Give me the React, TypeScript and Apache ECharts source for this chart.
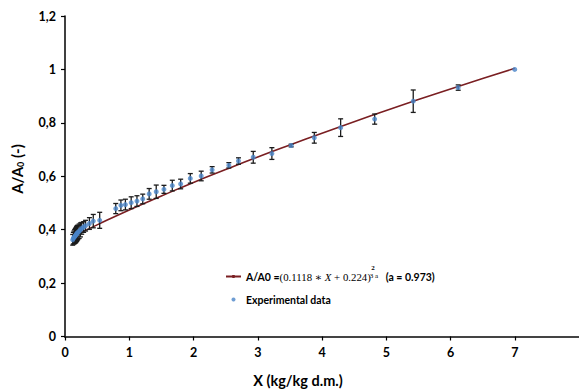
import React, { useEffect, useRef } from "react";
import * as echarts from "echarts";

// Fitted model curve
const fitX = [0.13, 0.5, 1, 1.5, 2, 2.5, 3, 3.5, 4, 4.5, 5, 5.5, 6, 6.5, 7];
const fitY = [0.375, 0.418, 0.474, 0.526, 0.577, 0.625, 0.672, 0.717, 0.761, 0.804, 0.846, 0.887, 0.927, 0.966, 1.004];

// Experimental data: X, A/A0, error bar half-length
const expX = [0.12, 0.13, 0.14, 0.15, 0.16, 0.17, 0.18, 0.19, 0.2, 0.22, 0.24, 0.26, 0.29, 0.32, 0.38, 0.44, 0.54,
  0.79, 0.87, 0.94, 1.03, 1.12, 1.21, 1.31, 1.42, 1.54, 1.67, 1.8, 1.95, 2.12, 2.29, 2.55, 2.7, 2.93, 3.22, 3.52,
  3.88, 4.29, 4.82, 5.42, 6.12, 7.0];
const expY = [0.362, 0.368, 0.371, 0.374, 0.377, 0.38, 0.384, 0.387, 0.39, 0.394, 0.399, 0.405, 0.41, 0.415, 0.423, 0.432, 0.435,
  0.479, 0.491, 0.494, 0.501, 0.507, 0.515, 0.534, 0.542, 0.551, 0.565, 0.571, 0.592, 0.601, 0.624, 0.641, 0.657, 0.671, 0.685, 0.715,
  0.744, 0.782, 0.814, 0.881, 0.932, 1.0];
const expErr = [0.02, 0.022, 0.024, 0.026, 0.027, 0.028, 0.028, 0.028, 0.027, 0.027, 0.026, 0.022, 0.02, 0.02, 0.022, 0.025, 0.03,
  0.019, 0.02, 0.02, 0.022, 0.02, 0.018, 0.02, 0.025, 0.015, 0.02, 0.018, 0.018, 0.018, 0.012, 0.01, 0.012, 0.022, 0.022, 0.005,
  0.02, 0.033, 0.019, 0.042, 0.01, 0];

const yTicks = [0, 0.2, 0.4, 0.6, 0.8, 1, 1.2];

const FIT_NAME = "A/A0";
const EXP_NAME = "Experimental data";

const FONT = "Lato, 'Liberation Sans', sans-serif";
const SERIF = "'Liberation Serif', 'DejaVu Serif', serif";

export default function App() {
  const ref = useRef<HTMLDivElement>(null);
  useEffect(() => {
    if (!ref.current) return;
    const chart = echarts.init(ref.current, null, { renderer: "svg" });
    const fitData = fitX.map((x, i) => [x, fitY[i]]);
    const expData = expX.map((x, i) => [x, expY[i]]);
    const errData = expX.map((x, i) => [x, expY[i], expErr[i]]);
    chart.setOption({
      animation: false,
      backgroundColor: "#fff",
      grid: { left: 65, top: 16, right: -3, bottom: 52.5, containLabel: false },
      xAxis: [
        {
          type: "value",
          min: 0,
          max: 8,
          interval: 1,
          axisLine: { show: true, onZero: false, lineStyle: { color: "#000", width: 1.5 } },
          axisTick: { show: true, length: 4, lineStyle: { color: "#000", width: 1.2 } },
          axisLabel: {
            margin: 9,
            showMaxLabel: false,
            color: "#000",
            fontFamily: FONT,
            fontWeight: "bold",
            fontSize: 12.5,
          },
          splitLine: { show: false },
        },
        {
          type: "value",
          position: "top",
          min: 0,
          max: 8,
          axisLine: { show: true, lineStyle: { color: "#444", width: 2 } },
          axisTick: { show: false },
          axisLabel: { show: false },
          splitLine: { show: false },
        },
      ],
      yAxis: {
        type: "value",
        min: 0,
        max: 1.2,
        interval: 0.2,
        axisLine: { show: true, onZero: false, lineStyle: { color: "#000", width: 1.5 } },
        axisTick: { show: true, length: 4, lineStyle: { color: "#000", width: 1.2 } },
        axisLabel: {
          margin: 9,
          color: "#000",
          fontFamily: FONT,
          fontWeight: "bold",
          fontSize: 12.5,
          formatter: (v: number) => {
            const t = yTicks.find((k) => Math.abs(k - v) < 1e-6);
            const val = t === undefined ? v : t;
            return String(Number(val.toFixed(1))).replace(".", ",");
          },
        },
        splitLine: { show: false },
      },
      legend: {
        orient: "vertical",
        left: 220,
        top: 266,
        itemWidth: 15,
        itemHeight: 4,
        itemGap: 12,
        selectedMode: false,
        data: [{ name: FIT_NAME }, { name: EXP_NAME, icon: "circle" }],
        formatter: (name: string) =>
          name === FIT_NAME
            ? "{b|A/A0 =}{m|(0.1118 ∗ }{mi|X}{m| + 0.224)}{sp| }{b|(a = 0.973)}"
            : "{b|Experimental data}",
        textStyle: {
          color: "#000",
          rich: {
            b: { fontFamily: FONT, fontWeight: "bold", fontSize: 10.5, color: "#000" },
            m: { fontFamily: SERIF, fontSize: 10.8, color: "#000" },
            mi: { fontFamily: SERIF, fontStyle: "italic", fontSize: 10.8, color: "#000" },
            sp: { width: 15, fontSize: 9 },
          },
        },
      },
      graphic: [
        {
          type: "text",
          x: 373,
          y: 267.5,
          style: { text: "2", font: `bold 7px ${SERIF}`, fill: "#000", align: "center", verticalAlign: "middle" },
        },
        {
          type: "text",
          x: 374,
          y: 275.5,
          style: { text: "3 a", font: `7px ${SERIF}`, fill: "#000", align: "center", verticalAlign: "middle" },
        },
        {
          type: "text",
          x: 17,
          y: 169,
          rotation: Math.PI / 2,
          style: {
            text: "{t|A/A}{s|0}{t| (-)}",
            align: "center",
            verticalAlign: "middle",
            rich: {
              t: { fontFamily: FONT, fontWeight: "bold", fontSize: 15, fill: "#000" },
              s: { fontFamily: FONT, fontWeight: "bold", fontSize: 9, fill: "#000", padding: [7, 0, 0, 0] },
            },
          },
        },
        {
          type: "text",
          x: 298,
          y: 380,
          style: {
            text: "X (kg/kg d.m.)",
            align: "center",
            verticalAlign: "middle",
            font: `bold 14.5px ${FONT}`,
            fill: "#000",
          },
        },
      ],
      series: [
        {
          name: FIT_NAME,
          type: "line",
          data: fitData,
          smooth: true,
          symbol: "none",
          showSymbol: false,
          lineStyle: { color: "#7a1f22", width: 1.6 },
          itemStyle: { color: "#7a1f22" },
          z: 2,
        },
        {
          name: "err",
          type: "custom",
          data: errData,
          encode: { x: 0, y: 1 },
          z: 3,
          renderItem: (_params: any, api: any) => {
            const x = api.value(0);
            const y = api.value(1);
            const e = api.value(2);
            if (!e) return { type: "group", children: [] };
            const top = api.coord([x, y + e]);
            const bot = api.coord([x, y - e]);
            const w = 2.5;
            const st = { stroke: "#1c1c1c", lineWidth: 1.3 };
            return {
              type: "group",
              children: [
                { type: "line", shape: { x1: top[0], y1: top[1], x2: bot[0], y2: bot[1] }, style: st },
                { type: "line", shape: { x1: top[0] - w, y1: top[1], x2: top[0] + w, y2: top[1] }, style: st },
                { type: "line", shape: { x1: bot[0] - w, y1: bot[1], x2: bot[0] + w, y2: bot[1] }, style: st },
              ],
            };
          },
        },
        {
          name: EXP_NAME,
          type: "scatter",
          data: expData,
          symbol: "circle",
          symbolSize: 5,
          itemStyle: { color: "#4a84c8" },
          z: 4,
        },
      ],
    });
    return () => chart.dispose();
  }, []);
  return (
    <div
      ref={ref}
      style={{ position: "absolute", left: 0, top: 0, width: 579, height: 389, background: "#fff" }}
    />
  );
}
